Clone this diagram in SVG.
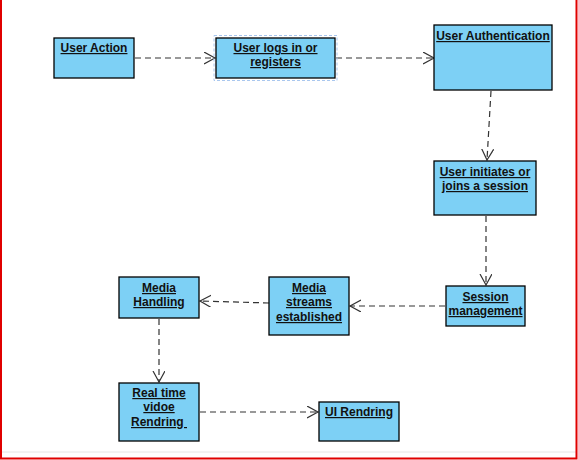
<svg xmlns="http://www.w3.org/2000/svg" width="578" height="460" viewBox="0 0 578 460">
<style>
.box{fill:#7dd0f5;stroke:#000;stroke-width:1.3}
.t{font-family:"Liberation Sans",Arial,sans-serif;font-size:12px;font-weight:bold;fill:#111;text-anchor:middle;text-decoration:underline}
.c{fill:none;stroke:#333;stroke-width:1.2;stroke-dasharray:6,4}
.cg{fill:none;stroke:#777;stroke-width:1.6;stroke-dasharray:6,4}
</style>
<defs>
<marker id="ah" markerWidth="14" markerHeight="14" refX="11" refY="6" orient="auto" markerUnits="userSpaceOnUse">
<path d="M0,0 L11,6 L0,12" fill="none" stroke="#333" stroke-width="1.2"/>
</marker>
</defs>
<rect width="578" height="460" fill="#fff"/>
<line x1="0" y1="452" x2="576" y2="452" stroke="#e6e6e6" stroke-width="1"/>
<path d="M1,0 V458.5 H576.5 V0" fill="none" stroke="#e00000" stroke-width="2"/>
<g id="connectors">
<path class="cg" d="M135,58 H215" marker-end="url(#ah)"/>
<path class="cg" d="M336,58 H434" marker-end="url(#ah)"/>
<path class="c" d="M491,91 L487,160" marker-end="url(#ah)"/>
<path class="c" d="M486,216 V285" marker-end="url(#ah)"/>
<path class="c" d="M445,306 H350" marker-end="url(#ah)"/>
<path class="c" d="M269,303 L200,301" marker-end="url(#ah)"/>
<path class="c" d="M159,319 V382" marker-end="url(#ah)"/>
<path class="c" d="M200,412 H318" marker-end="url(#ah)"/>
</g>
<g id="user-action">
<rect class="box" x="54" y="38" width="80" height="40"/>
<text class="t" x="94" y="52">User Action</text>
</g>
<g id="user-logs">
<rect x="214" y="35.5" width="123" height="45" fill="none" stroke="#a9c7ef" stroke-width="1" stroke-dasharray="3,2"/>
<rect class="box" x="216" y="38" width="119" height="40"/>
<text class="t" x="275.5" y="52">User logs in or</text>
<text class="t" x="275.5" y="66">registers</text>
</g>
<g id="user-auth">
<rect class="box" x="434" y="25" width="118" height="65"/>
<text class="t" x="493" y="40">User Authentication</text>
</g>
<g id="user-initiates">
<rect class="box" x="434" y="161" width="102" height="54"/>
<text class="t" x="485" y="176">User initiates or</text>
<text class="t" x="485" y="190">joins a session</text>
</g>
<g id="session-mgmt">
<rect class="box" x="446" y="286" width="79" height="40"/>
<text class="t" x="485.5" y="301">Session</text>
<text class="t" x="485.5" y="315">management</text>
</g>
<g id="media-streams">
<rect class="box" x="269" y="277" width="80" height="58"/>
<text class="t" x="309" y="292">Media</text>
<text class="t" x="309" y="306">streams</text>
<text class="t" x="309" y="321">established</text>
</g>
<g id="media-handling">
<rect class="box" x="119" y="277" width="80" height="41"/>
<text class="t" x="159" y="292">Media</text>
<text class="t" x="159" y="306">Handling</text>
</g>
<g id="real-time">
<rect class="box" x="119" y="383" width="80" height="58"/>
<text class="t" x="159" y="397">Real time</text>
<text class="t" x="159" y="411">vidoe</text>
<text class="t" x="159" y="426" xml:space="preserve">Rendring </text>
</g>
<g id="ui-rendring">
<rect class="box" x="319" y="402" width="80" height="39"/>
<text class="t" x="359" y="416">UI Rendring</text>
</g>
</svg>
